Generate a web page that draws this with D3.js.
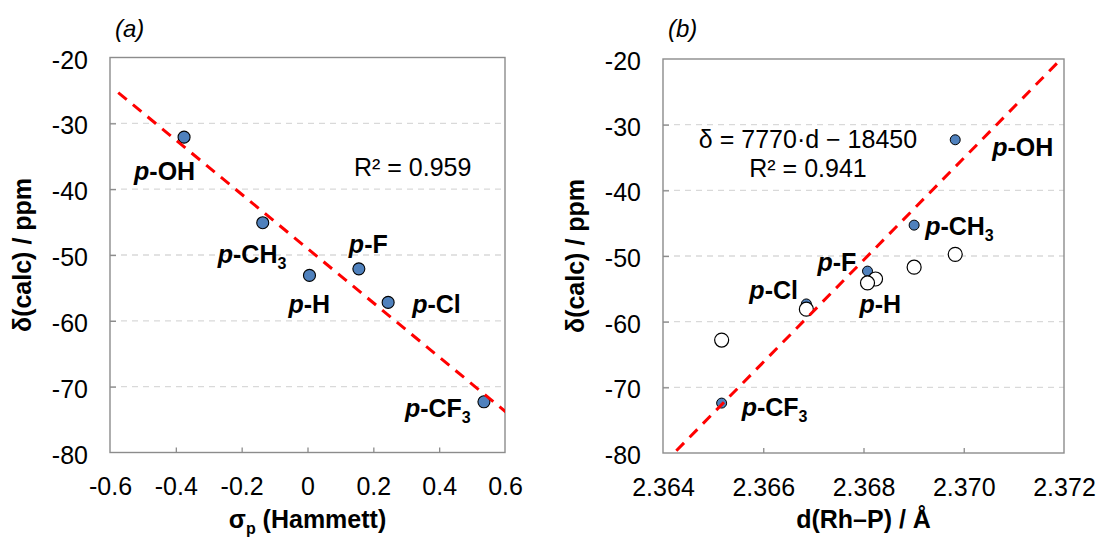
<!DOCTYPE html>
<html><head><meta charset="utf-8">
<script src="https://cdn.jsdelivr.net/npm/d3@7"></script>
<style>
body{margin:0;background:#fff}
svg text{font-family:"Liberation Sans",Arial,Helvetica,sans-serif;fill:#000}
</style>
</head><body>
<svg id="c" width="1099" height="538"></svg>
<script>
// ---------------- data ----------------
const substituents = ["p-OH","p-CH3","p-H","p-F","p-Cl","p-CF3"];
const sigmaP      = [-0.375,-0.136,0.006,0.156,0.245,0.536];   // Hammett sigma_p (panel a)
const deltaA      = [-32.1,-45.1,-53.1,-52.1,-57.2,-72.3];     // delta(calc) panel a
const dRhP        = [2.36983,2.36901,2.36824,2.36808,2.36686,2.36517]; // d(Rh-P) / Å
const deltaFilled = [-32.3,-45.3,-53.3,-52.3,-57.3,-72.4];     // panel b, filled points
const deltaOpen   = [-49.75,-51.7,-53.5,-54.1,-58.1,-62.8];    // panel b, open points
const xTicksA = [-0.6,-0.4,-0.2,0,0.2,0.4,0.6];
const xTicksB = [2.364,2.366,2.368,2.370,2.372];
const yTicks  = [-80,-70,-60,-50,-40,-30,-20];
const fitB = {slope:7770, intercept:-18450};
const r2A = "R\u00B2 = 0.959";
const eqB = "\u03B4 = 7770\u00B7d \u2212 18450";
const r2B = "R\u00B2 = 0.941";

// ---------------- layout ----------------
const svg = d3.select("#c");
const FS = 25;
const BLUE = "#4F81BD";

// label offsets (pixels from point) for substituent labels
const offA = {"p-OH":[-50,43],"p-CH3":[-45,40],"p-H":[-21,38],"p-F":[-10,-16],"p-Cl":[24,11],"p-CF3":[-79,15]};
const offB = {"p-OH":[37,16],"p-CH3":[11,10],"p-H":[-16,35],"p-F":[-50,0],"p-Cl":[-57,-5],"p-CF3":[20,13]};

function subLabel(sel, name){
  sel.attr("font-weight","bold").attr("font-size",FS);
  sel.append("tspan").attr("font-style","italic").text(name[0]);
  const rest = name.slice(1);
  const m = rest.match(/^(.*?)(\d*)$/);
  sel.append("tspan").text(m[1]);
  if(m[2]) sel.append("tspan").attr("font-size",16).attr("dy",6).text(m[2]);
}

function panel(cfg){
  const g = svg.append("g");
  const x = d3.scaleLinear().domain(cfg.xDomain).range([cfg.left,cfg.right]);
  const y = d3.scaleLinear().domain([-80,-20]).range([cfg.bottom,cfg.top]);
  const clipId = "clip"+cfg.id;
  svg.append("clipPath").attr("id",clipId).append("rect")
    .attr("x",cfg.left).attr("y",cfg.top).attr("width",cfg.right-cfg.left).attr("height",cfg.bottom-cfg.top);

  // gridlines
  g.append("g").selectAll("line").data(yTicks.filter(v=>v>-80&&v<-20)).join("line")
    .attr("x1",cfg.left).attr("x2",cfg.right).attr("y1",d=>y(d)).attr("y2",d=>y(d))
    .attr("stroke","#d9d9d9").attr("stroke-width",1.3).attr("stroke-dasharray","6,5");

  // box
  g.append("rect").attr("x",cfg.left).attr("y",cfg.top)
    .attr("width",cfg.right-cfg.left).attr("height",cfg.bottom-cfg.top)
    .attr("fill","none").attr("stroke","#8c8c8c").attr("stroke-width",1.4);

  // axes
  const xa = g.append("g").attr("transform",`translate(0,${cfg.bottom})`)
    .call(d3.axisBottom(x).tickValues(cfg.xTicks).tickFormat(cfg.xFmt).tickSizeInner(-5).tickSizeOuter(0).tickPadding(25));
  const ya = g.append("g").attr("transform",`translate(${cfg.left},0)`)
    .call(d3.axisLeft(y).tickValues(yTicks).tickFormat(d=>String(d)).tickSizeInner(-6).tickSizeOuter(0).tickPadding(22));
  [xa,ya].forEach(a=>{
    a.select(".domain").remove();
    a.selectAll(".tick line").attr("stroke","#8c8c8c").attr("stroke-width",1.3);
    a.selectAll(".tick text").attr("font-size",FS).attr("font-family",null).attr("fill","#000");
  });
  ya.selectAll(".tick text").attr("dy","0.42em");
  xa.selectAll(".tick line").filter(d=>d===cfg.xTicks[0]||d===cfg.xTicks[cfg.xTicks.length-1]).remove();
  ya.selectAll(".tick line").filter(d=>d===-80||d===-20).remove();

  // axis titles
  const yt = g.append("text").attr("transform",`translate(${cfg.left-79},${(cfg.top+cfg.bottom)/2}) rotate(-90)`)
    .attr("text-anchor","middle").attr("font-weight","bold").attr("font-size",FS).text("\u03B4(calc) / ppm");
  const xt = g.append("text").attr("x",(cfg.left+cfg.right)/2).attr("y",528)
    .attr("text-anchor","middle").attr("font-weight","bold").attr("font-size",FS);
  cfg.xTitle(xt);

  // panel letter
  g.append("text").attr("x",cfg.left+5).attr("y",37).attr("font-style","italic").attr("font-size",24).text(cfg.letter);

  return {g,x,y,clipId};
}

// ---------------- panel (a) ----------------
const A = panel({id:"a",left:110,right:505,top:57.5,bottom:452.5,xDomain:[-0.6,0.6],xTicks:xTicksA,
  xFmt:d=>d===0?"0":d.toFixed(1),letter:"(a)",
  xTitle:t=>{t.append("tspan").text("\u03C3");t.append("tspan").attr("font-size",16).attr("dy",6).text("p");
             t.append("tspan").attr("dy",-6).text(" (Hammett)");}});
const ptsA = substituents.map((s,i)=>({s,x:sigmaP[i],y:deltaA[i]}));
A.g.append("g").selectAll("circle").data(ptsA).join("circle")
  .attr("cx",d=>A.x(d.x)).attr("cy",d=>A.y(d.y)).attr("r",6)
  .attr("fill",BLUE).attr("stroke","#000").attr("stroke-width",1.1);
// least-squares trendline
{
  const mx=d3.mean(sigmaP), my=d3.mean(deltaA);
  const sxy=d3.sum(sigmaP.map((v,i)=>(v-mx)*(deltaA[i]-my)));
  const sxx=d3.sum(sigmaP.map(v=>(v-mx)**2));
  const b=sxy/sxx, a=my-b*mx;
  const x0=d3.min(sigmaP)-0.2, x1=d3.max(sigmaP)+0.2;
  A.g.append("line").attr("clip-path",`url(#${A.clipId})`)
    .attr("x1",A.x(x0)).attr("y1",A.y(a+b*x0)).attr("x2",A.x(x1)).attr("y2",A.y(a+b*x1))
    .attr("stroke","#ff0000").attr("stroke-width",3).attr("stroke-dasharray","11,8");
}
A.g.append("g").selectAll("text").data(ptsA).join("text")
  .attr("x",d=>A.x(d.x)+offA[d.s][0]).attr("y",d=>A.y(d.y)+offA[d.s][1])
  .each(function(d){subLabel(d3.select(this),d.s);});
A.g.append("text").attr("x",354).attr("y",176).attr("font-size",FS).text(r2A);

// ---------------- panel (b) ----------------
const B = panel({id:"b",left:663,right:1064,top:59,bottom:453,xDomain:[2.364,2.372],xTicks:xTicksB,
  xFmt:d=>d.toFixed(3),letter:"(b)",
  xTitle:t=>{t.text("d(Rh\u2013P) / \u00C5");}});
const ptsB = substituents.map((s,i)=>({s,x:dRhP[i],y:deltaFilled[i],yo:deltaOpen[i]}));
B.g.append("g").selectAll("circle").data(ptsB).join("circle")
  .attr("cx",d=>B.x(d.x)).attr("cy",d=>B.y(d.y)).attr("r",5)
  .attr("fill",BLUE).attr("stroke","#000").attr("stroke-width",1);
B.g.append("g").selectAll("circle").data(ptsB).join("circle")
  .attr("cx",d=>B.x(d.x)).attr("cy",d=>B.y(d.yo)).attr("r",7)
  .attr("fill","#fff").attr("stroke","#000").attr("stroke-width",1.2);
{
  const [x0,x1]=B.x.domain();
  B.g.append("line").attr("clip-path",`url(#${B.clipId})`)
    .attr("x1",B.x(x0)).attr("y1",B.y(fitB.slope*x0+fitB.intercept))
    .attr("x2",B.x(x1)).attr("y2",B.y(fitB.slope*x1+fitB.intercept))
    .attr("stroke","#ff0000").attr("stroke-width",3).attr("stroke-dasharray","11,8");
}
B.g.append("g").selectAll("text").data(ptsB).join("text")
  .attr("x",d=>B.x(d.x)+offB[d.s][0]).attr("y",d=>B.y(d.y)+offB[d.s][1])
  .each(function(d){subLabel(d3.select(this),d.s);});
B.g.append("text").attr("x",808).attr("y",148).attr("text-anchor","middle").attr("font-size",FS).text(eqB);
B.g.append("text").attr("x",808).attr("y",177).attr("text-anchor","middle").attr("font-size",FS).text(r2B);
</script>
</body></html>
